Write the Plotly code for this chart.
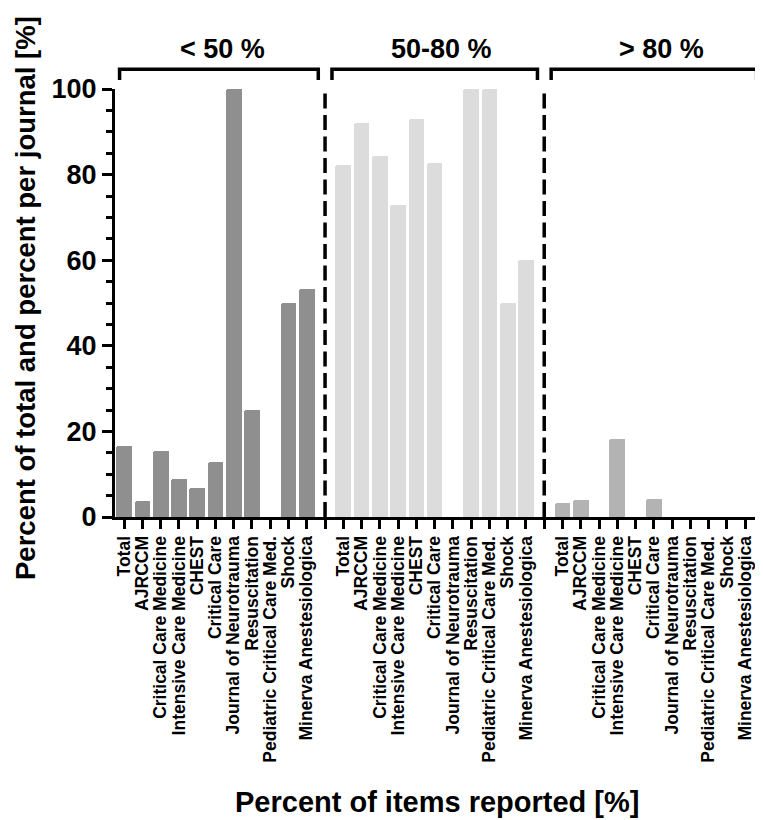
import plotly.graph_objects as go

journals = ["Total", "AJRCCM", "Critical Care Medicine", "Intensive Care Medicine",
            "CHEST", "Critical Care", "Journal of Neurotrauma", "Resuscitation",
            "Pediatric Critical Care Med.", "Shock", "Minerva Anestesiologica"]
groups = ["< 50 %", "50-80 %", "> 80 %"]
below50 = [16.5, 3.8, 15.5, 8.9, 6.8, 12.8, 100, 25, 0, 50, 53.3]
mid50_80 = [82.3, 92.1, 84.3, 72.8, 93.1, 82.8, 0, 100, 100, 50, 60.0]
above80 = [3.3, 4.0, 0, 18.2, 0, 4.2, 0, 0, 0, 0, 0]
series = [below50, mid50_80, above80]
colors = ["#8f8f8f", "#dcdcdc", "#b3b3b3"]
y_ticks = [0, 20, 40, 60, 80, 100]

n = len(journals)
step = n + 1
font = "Arial, Liberation Sans, sans-serif"

# page body has an 8px margin; plot area placed to match the reference on screen
L, R, T, B = 107, 14, 81, 311

fig = go.Figure()
tickvals, ticktext = [], []
for g, vals in enumerate(series):
    x0 = g * step
    xs = [x0 + i for i in range(n)]
    fig.add_trace(go.Bar(x=xs, y=vals, marker=dict(color=colors[g], line=dict(width=0), cornerradius=2),
                         width=0.86, showlegend=False, hoverinfo="x+y"))
    tickvals += xs
    ticktext += journals
    if g < len(series) - 1:
        tickvals.append(x0 + n)
        ticktext.append("")
        fig.add_shape(type="line", xref="x", yref="y", x0=x0 + n, x1=x0 + n, y0=0, y1=101,
                      line=dict(color="black", width=3.5, dash="15px,6.5px"))
    # bracket
    bl = x0 - (0.25 if g == 0 else 0.62)
    br = x0 + n - 0.37
    fig.add_shape(type="path", xref="x", yref="paper",
                  path=f"M {bl},1.021 L {bl},1.046 L {br},1.046 L {br},1.021",
                  line=dict(color="black", width=3.5))
    fig.add_annotation(x=x0 + 5.4, y=1.0946, xref="x", yref="paper", text=groups[g],
                       showarrow=False, font=dict(family=font, size=27, color="black", weight="bold"),
                       xanchor="center", yanchor="middle")

fig.add_annotation(x=(0 - L) / (763 - L - R), y=0.5105, xref="paper", yref="paper",
                   text="Percent of total and percent per journal [%]", textangle=-90,
                   xanchor="left", yanchor="middle",
                   showarrow=False, font=dict(family=font, size=27.5, color="black", weight="bold"))
fig.add_annotation(x=(437 - 8 - L) / (763 - L - R), y=(509 - 794) / 428, xref="paper", yref="paper",
                   text="Percent of items reported [%]", xanchor="center",
                   showarrow=False, font=dict(family=font, size=29, color="black", weight="bold"),
                   yanchor="middle")

fig.update_layout(
    width=763, height=820,
    margin=dict(l=L, r=R, t=T, b=B),
    plot_bgcolor="white", paper_bgcolor="white",
    bargap=0,
    xaxis=dict(range=[-0.5, 3 * n + 2 - 0.35], tickvals=tickvals, ticktext=ticktext, tickangle=-90,
               showline=True, linecolor="black", linewidth=3, ticks="outside", ticklen=9, tickwidth=3,
               tickcolor="black", showgrid=False, zeroline=False,
               tickfont=dict(family=font, size=17.5, color="black", weight="bold")),
    yaxis=dict(range=[0, 100], tickvals=y_ticks, showline=True, linecolor="black", linewidth=3,
               ticks="outside", ticklen=10, tickwidth=3, tickcolor="black", showgrid=False,
               zeroline=False,
               tickfont=dict(family=font, size=27, color="black", weight="bold"),
               minor=dict(dtick=5, ticks="outside", ticklen=6, tickwidth=3, tickcolor="black")),
)

fig.write_html("out.html")
